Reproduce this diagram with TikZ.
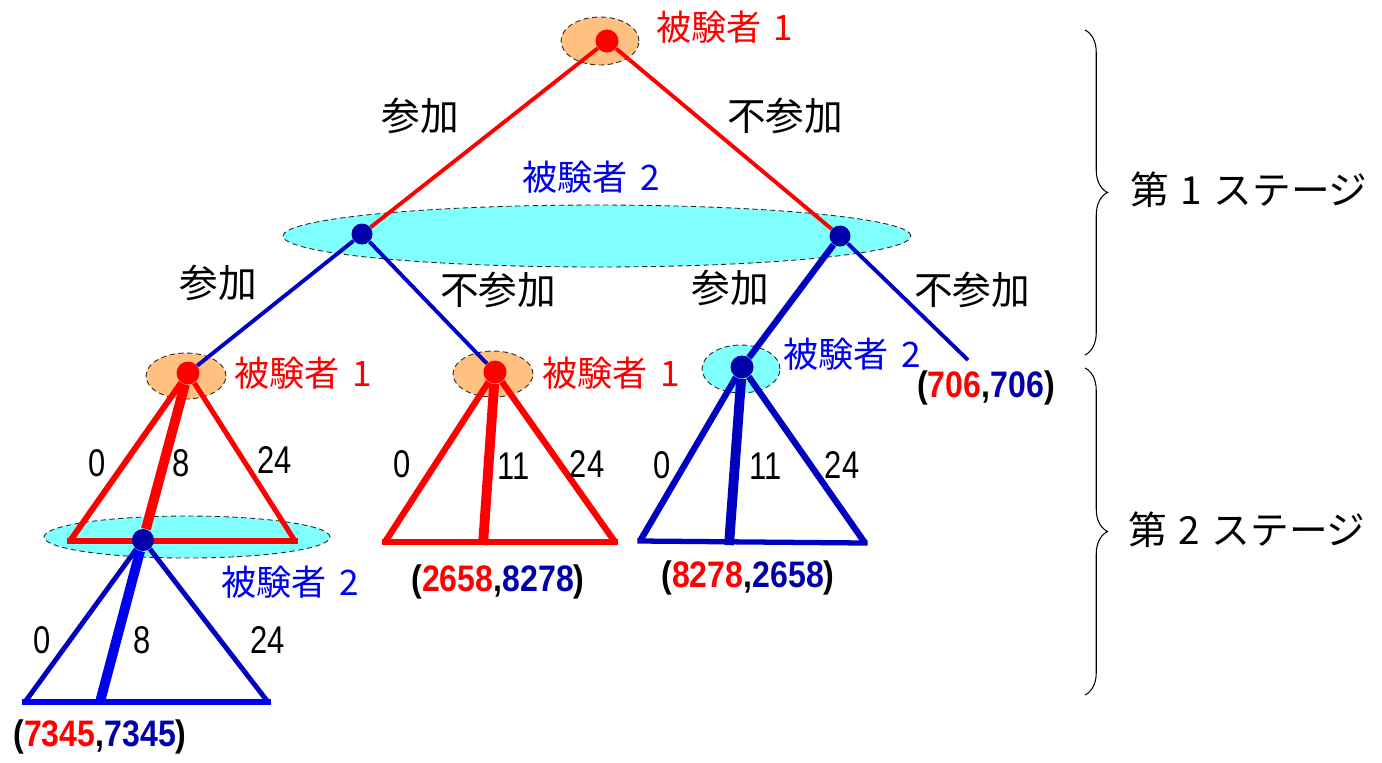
\documentclass[tikz,border=0pt]{standalone}
\usepackage{fontspec}
\setmainfont{Liberation Sans}
\newfontfamily\jpfont{Noto Sans CJK JP}
\newfontfamily\numfont[FakeStretch=0.8]{Liberation Sans}
\newfontfamily\payfont[FakeStretch=0.87]{Liberation Sans Bold}
\usetikzlibrary{shapes.geometric,decorations.pathreplacing}
\definecolor{pred}{RGB}{255,0,0}
\definecolor{pblue}{RGB}{0,0,192}
\definecolor{lblue}{RGB}{0,0,240}
\definecolor{dotblue}{RGB}{0,0,170}
\definecolor{infoorange}{RGB}{255,192,128}
\definecolor{infocyan}{RGB}{128,255,255}

\begin{document}
\begin{tikzpicture}[x=0.02cm, y=-0.02cm,
  info/.style={ellipse, draw=black!85, dash pattern=on 3pt off 2pt, line width=0.5pt, inner sep=0pt},
  p1set/.style={info, fill=infoorange},
  p2set/.style={info, fill=infocyan},
  decnode/.style={circle, inner sep=0pt, minimum size=0.46cm},
  p1node/.style={decnode, fill=pred},
  p2node/.style={decnode, fill=dotblue},
  who1/.style={text=pred, font=\jpfont\fontsize{20}{24}\selectfont},
  who2/.style={text=lblue, font=\jpfont\fontsize{20}{24}\selectfont},
  act/.style={font=\jpfont\fontsize{22}{26}\selectfont},
  hours/.style={font=\numfont\fontsize{22}{26}\selectfont},
  payoff/.style={font=\payfont\fontsize{21}{25}\selectfont},
  stage/.style={font=\jpfont\fontsize{22}{26}\selectfont},
  thin/.style={line width=2.2pt},
  mid/.style={line width=3.6pt},
  thick/.style={line width=5.6pt},
  base/.style={line cap=rect},
  stagebrace/.style={decorate, decoration={brace, amplitude=0.45cm}, line width=0.6pt}
]
\useasboundingbox (0,0) rectangle (1382,762);

% information sets
\node[p1set, minimum width=1.56cm, minimum height=0.96cm] (set0) at (600,41) {};
\node[p2set, minimum width=12.56cm, minimum height=1.24cm] (set1) at (597,236) {};
\node[p1set, minimum width=1.6cm, minimum height=0.92cm] (set2) at (186,376) {};
\node[p1set, minimum width=1.6cm, minimum height=0.92cm] (set3) at (493,374) {};
\node[p2set, minimum width=1.56cm, minimum height=0.96cm] (set4) at (741,369) {};
\node[p2set, minimum width=5.72cm, minimum height=0.84cm] (set5) at (187,537) {};

% first stage
\node[p1node] (root) at (607,41) {};
\node[p2node, minimum size=0.42cm] (join) at (362,234) {};
\node[p2node, minimum size=0.42cm] (stay) at (840,236) {};
\draw[pred, thin] (root) -- (join);
\draw[pred, thin] (root) -- (stay);

\node[p1node] (jj) at (188,373) {};
\node[p1node] (jn) at (495,372) {};
\node[p2node] (nj) at (742,367) {};
\coordinate (nn) at (968,360);
\draw[pblue, line width=2.2pt] (join) -- (jj);
\draw[pblue, line width=2.2pt] (join) -- (jn);
\draw[pblue, mid] (stay) -- (nj);
\draw[pblue, thin] (stay) -- (nn);

\node[who1, anchor=west] at (650,27) {被験者\hspace{0.35em}1};
\node[act] at (420,116) {参加};
\node[act] at (785,116) {不参加};
\node[who2] at (591,177) {被験者\hspace{0.35em}2};
\node[act] at (218,283) {参加};
\node[act] at (498,290) {不参加};
\node[act] at (730,288) {参加};
\node[act] at (972,290) {不参加};
\node[payoff] (pay0) at (986,388) {(\textcolor{pred}{706},\textcolor{dotblue}{706})};

% second stage
\coordinate (jjL) at (70,541);
\coordinate (jjR) at (295,541);
\draw[pred, line width=3.4pt] (jj) -- (jjL);
\draw[pred, line width=2.9pt] (jj) -- (jjR);
\draw[pred, mid, base] (jjL) -- (jjR);
\node[p2node, minimum size=0.44cm] (jjx) at (143,540) {};
\draw[pred, thick] (jj) -- (jjx);
\node[who1] at (303,373) {被験者\hspace{0.35em}1};
\node[hours] at (97,463) {0};
\node[hours] at (181,463) {8};
\node[hours] at (275,460) {24};

\coordinate (xL) at (25,702);
\coordinate (xR) at (268,702);
\coordinate (xM) at (100,702);
\draw[pblue, line width=2.8pt] (jjx) -- (xL);
\draw[pblue, line width=2.8pt] (jjx) -- (xR);
\draw[lblue, line width=3.4pt, base] (xL) -- (xR);
\draw[lblue, thick] (jjx) -- (xM);
\node[who2] at (290,582) {被験者\hspace{0.35em}2};
\node[hours] at (42,640) {0};
\node[hours] at (142,640) {8};
\node[hours] at (268,640) {24};
\node[payoff] (pay1) at (100,737) {(\textcolor{pred}{7345},\textcolor{dotblue}{7345})};

\coordinate (jnL) at (385,542);
\coordinate (jnR) at (615,542);
\coordinate (jnM) at (483,545);
\draw[pred, mid] (jn) -- (jnL);
\draw[pred, mid] (jn) -- (jnR);
\draw[pred, line width=3.4pt, base] (jnL) -- (jnR);
\draw[pred, thick] (jn) -- (jnM);
\node[who1] at (611,373) {被験者\hspace{0.35em}1};
\node[hours] at (402,464) {0};
\node[hours] at (514,466) {11};
\node[hours] at (587,464) {24};
\node[payoff] (pay2) at (498,582) {(\textcolor{pred}{2658},\textcolor{dotblue}{8278})};

\coordinate (njL) at (640,541);
\coordinate (njR) at (865,543);
\coordinate (njM) at (729,545);
\draw[pblue, mid] (nj) -- (njL);
\draw[pblue, mid] (nj) -- (njR);
\draw[pblue, line width=3pt, base] (njL) -- (njR);
\draw[pblue, thick] (nj) -- (njM);
\node[who2] at (852,354) {被験者\hspace{0.35em}2};
\node[hours] at (662,465) {0};
\node[hours] at (766,466) {11};
\node[hours] at (842,465) {24};
\node[payoff] (pay3) at (748,578) {(\textcolor{pred}{8278},\textcolor{dotblue}{2658})};

% stages
\coordinate (b1top) at (1085,30);
\coordinate (b1bot) at (1085,355);
\coordinate (b2top) at (1085,368);
\coordinate (b2bot) at (1085,695);
\draw[stagebrace] (b1top) -- (b1bot);
\draw[stagebrace] (b2top) -- (b2bot);
\node[stage] (st1) at (1249,190) {第\hspace{0.3em}1\hspace{0.3em}ステージ};
\node[stage] (st2) at (1247,530) {第\hspace{0.3em}2\hspace{0.3em}ステージ};
\end{tikzpicture}
\end{document}
